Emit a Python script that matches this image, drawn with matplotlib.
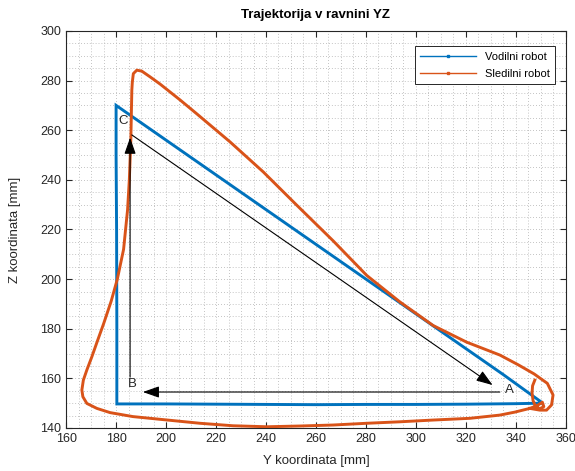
# -*- coding: utf-8 -*-

import matplotlib
matplotlib.use('Agg')
import matplotlib.pyplot as plt
from matplotlib.lines import Line2D

plt.rcParams['font.family'] = ['Liberation Sans', 'DejaVu Sans']

'''################## DATA (read from the reference picture) ##################'''

# leader robot: A -> B -> C -> A
vodilni_y = [350.0, 340.0, 320.0, 300.0, 280.0, 260.0, 240.0, 220.0, 200.0, 180.3,
             180.3, 180.2, 180.0, 180.0, 195.0, 220.0, 250.0, 280.0, 310.0, 335.0, 350.0]
vodilni_z = [150.0, 149.8, 149.6, 149.5, 149.5, 149.4, 149.5, 149.6, 149.7, 149.7,
             180.0, 220.0, 250.0, 270.0, 259.5, 242.0, 221.0, 200.0, 179.0, 161.5, 150.6]

# follower robot
sledilni_y = [347.6, 346.7, 346.5, 346.9, 348.0, 349.6, 351.2, 350.6, 348.5, 345.6,
              339.6, 333.6, 321.6, 306.8, 293.6, 280.3, 266.8, 253.6, 240.3, 226.8,
              213.6, 197.6, 186.7, 177.6, 172.3, 168.3, 166.7, 166.3, 166.9, 168.3,
              170.3, 172.5, 175.0, 178.0, 180.5, 183.0, 184.6, 185.3, 185.9, 186.3,
              186.5, 186.9, 188.3, 190.3, 193.6, 197.6, 201.6, 205.6, 212.3, 225.6,
              238.9, 252.3, 266.9, 280.3, 293.6, 306.9, 320.3, 333.6, 340.9, 347.3,
              352.6, 354.9, 354.3, 352.3, 349.6, 345.6]
sledilni_z = [159.3, 157.0, 154.0, 151.0, 148.6, 147.8, 148.6, 150.4, 149.0, 147.9,
              146.4, 145.2, 143.9, 143.2, 142.5, 141.9, 141.2, 140.8, 140.5, 140.9,
              141.9, 143.5, 144.6, 146.2, 147.9, 149.9, 152.6, 155.3, 159.3, 163.4,
              168.7, 175.0, 182.0, 191.0, 200.0, 212.0, 228.0, 240.0, 256.1, 276.2,
              279.4, 282.8, 284.2, 283.8, 281.5, 278.6, 275.4, 272.2, 266.6, 255.3,
              243.2, 229.8, 215.4, 201.5, 190.8, 181.3, 174.6, 169.4, 165.5, 161.8,
              158.0, 153.3, 149.3, 147.2, 147.2, 147.9]

# arrows (start, end) and point labels
arrow_start = [(333.6, 154.5), (185.6, 160.5), (186.3, 258.1)]
arrow_end = [(190.7, 154.5), (185.6, 257.0), (330.7, 157.3)]
label_text = ['A', 'B', 'C']
label_y = [337.3, 186.3, 182.9]
label_z = [155.3, 157.6, 263.7]

xticks = list(range(160, 361, 20))
yticks = list(range(140, 301, 20))

'''################## PLOT ##################'''

blue = '#0072BD'
orange = '#D95319'
frame = '#262626'

fig = plt.figure(figsize=(5.75, 4.71), dpi=100)
ax = fig.add_axes([0.115, 0.0913, 0.869, 0.843])

ax.plot(vodilni_y, vodilni_z, color=blue, lw=2.1, solid_joinstyle='miter', zorder=3)
ax.plot(sledilni_y, sledilni_z, color=orange, lw=2.1, zorder=3)

for (x0, y0), (x1, y1) in zip(arrow_start, arrow_end):
    ax.annotate('', xy=(x1, y1), xytext=(x0, y0),
                arrowprops=dict(arrowstyle='-|>,head_length=1.0,head_width=0.35',
                                color='black', lw=0.8, shrinkA=0, shrinkB=0),
                zorder=4)

for t, x, y in zip(label_text, label_y, label_z):
    ax.text(x, y, t, fontsize=9.5, ha='center', va='center', color=frame, zorder=5)

ax.set_xlim(160, 360)
ax.set_ylim(140, 300)
ax.set_xticks(xticks)
ax.set_yticks(yticks)
ax.set_xticks(range(160, 361, 5), minor=True)
ax.set_yticks(range(140, 301, 5), minor=True)
ax.grid(True, which='both', color='#b0b0b0', ls=(0, (1, 2.5)), lw=0.6)
ax.tick_params(which='both', direction='in', top=True, right=True,
               colors=frame, labelsize=9)
ax.tick_params(which='minor', length=0)
ax.tick_params(which='major', length=4)
for s in ax.spines.values():
    s.set_color(frame)
    s.set_linewidth(0.8)

ax.set_xlabel('Y koordinata [mm]', fontsize=9.5, color=frame, labelpad=7)
ax.set_ylabel('Z koordinata [mm]', fontsize=9.5, color=frame, labelpad=14)
ax.set_title('Trajektorija v ravnini YZ', fontsize=9.5, fontweight='bold', pad=9)

handles = [Line2D([], [], color=blue, lw=1, marker='s', ms=2),
           Line2D([], [], color=orange, lw=1, marker='s', ms=2)]
leg = ax.legend(handles, ['Vodilni robot', 'Sledilni robot'], loc='upper right',
                bbox_to_anchor=(0.99, 0.975), fontsize=8, fancybox=False,
                framealpha=1, edgecolor=frame, handlelength=5, borderpad=0.5,
                labelspacing=0.6)
leg.get_frame().set_linewidth(0.7)

fig.savefig('out.png', dpi=100)
